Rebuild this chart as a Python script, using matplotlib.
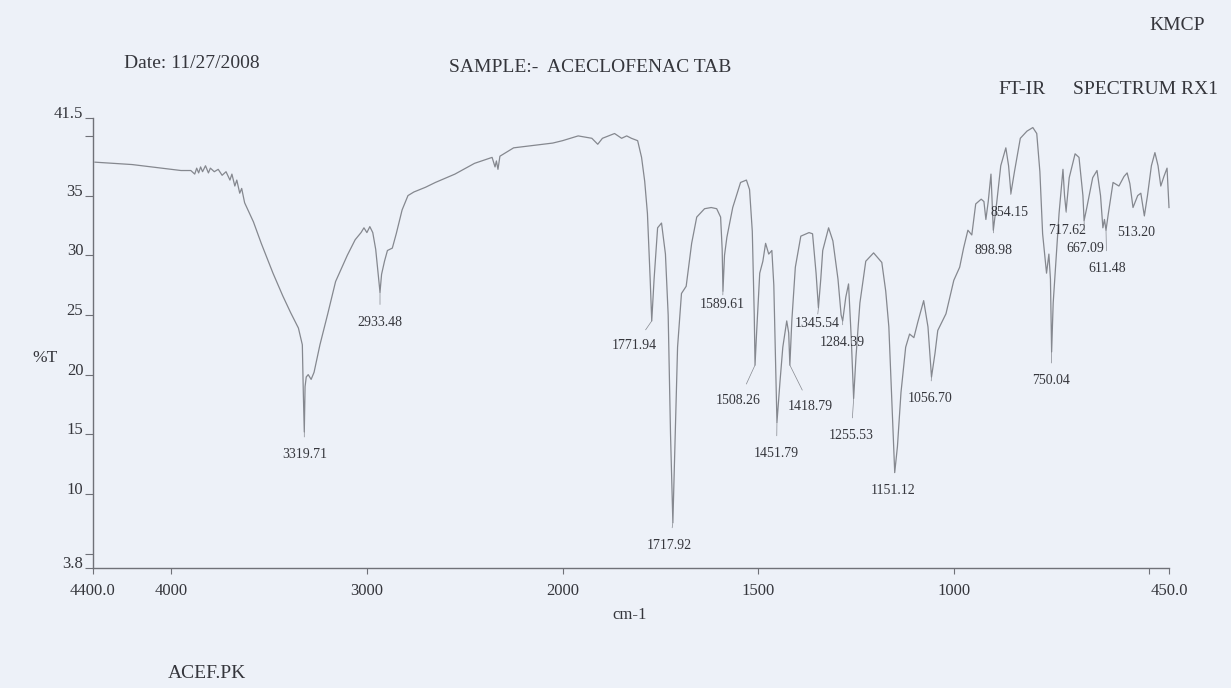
import numpy as np
import matplotlib
matplotlib.use("Agg")
import matplotlib.pyplot as plt

# ---------------- data ----------------
wavenumber = [4390, 4200, 4050, 3950, 3900, 3880, 3870, 3860, 3850, 3840, 3825, 3810, 3800,
              3780, 3760, 3740, 3720, 3700, 3690, 3675, 3665, 3650, 3640, 3625, 3600, 3580,
              3540, 3480, 3430, 3390, 3350, 3330, 3325, 3320, 3316, 3310, 3300, 3285, 3270,
              3240, 3200, 3160, 3100, 3060, 3030, 3015, 3000, 2985, 2970, 2955, 2940, 2933,
              2925, 2910, 2895, 2870, 2850, 2820, 2790, 2760, 2700, 2650, 2550, 2450, 2360,
              2345, 2338, 2330, 2320, 2250, 2150, 2050, 2000, 1960, 1925, 1910, 1898, 1867,
              1849, 1836, 1824, 1808, 1798, 1790, 1783, 1776, 1772, 1766, 1757, 1747, 1737,
              1730, 1724, 1718, 1712, 1706, 1696, 1684, 1670, 1657, 1637, 1620, 1606, 1596,
              1592, 1590, 1586, 1580, 1565, 1545, 1530, 1522, 1515, 1510, 1508, 1504, 1496,
              1488, 1481, 1473, 1465, 1460, 1452, 1444, 1437, 1427, 1422, 1419, 1414, 1405,
              1391, 1370, 1361, 1352, 1346, 1340, 1335, 1320, 1309, 1296, 1288, 1284, 1276,
              1269, 1262, 1256, 1250, 1240, 1225, 1205, 1184, 1174, 1166, 1158, 1151, 1144,
              1135, 1123, 1113, 1102, 1092, 1077, 1066, 1057, 1048, 1041, 1020, 1000, 985,
              975, 964, 954, 944, 930, 923, 918, 912, 905, 899, 890, 880, 867, 860, 854, 845,
              830, 813, 798, 788, 780, 773, 763, 757, 753, 750, 746, 738, 731, 721, 717, 713,
              705, 690, 680, 670, 667, 660, 645, 634, 625, 619, 615, 611, 605, 593, 578, 565,
              557, 550, 542, 530, 522, 513, 505, 495, 486, 478, 471, 463, 455, 450]
transmittance = [37.8, 37.6, 37.3, 37.1, 37.1, 36.8, 37.3, 36.9, 37.4, 37.0, 37.5, 36.9, 37.3,
                 37.0, 37.2, 36.7, 37.0, 36.3, 36.8, 35.8, 36.3, 35.2, 35.6, 34.4, 33.5, 32.8,
                 31.0, 28.5, 26.6, 25.2, 23.9, 22.5, 18.5, 15.2, 19.0, 19.8, 20.0, 19.6, 20.2,
                 22.5, 25.1, 27.8, 30.0, 31.3, 31.9, 32.3, 31.9, 32.4, 31.9, 30.5, 28.0, 26.9,
                 28.4, 29.5, 30.4, 30.6, 31.8, 33.8, 35.0, 35.3, 35.7, 36.1, 36.8, 37.7, 38.2,
                 37.4, 37.9, 37.2, 38.3, 39.0, 39.2, 39.4, 39.6, 40.0, 39.8, 39.3, 39.8, 40.2,
                 39.8, 40.0, 39.8, 39.6, 38.2, 36.2, 33.5, 28.0, 24.5, 28.0, 32.3, 32.7, 30.1,
                 25.0, 15.0, 7.6, 15.0, 22.3, 26.8, 27.4, 31.0, 33.2, 33.9, 34.0, 33.9, 33.2,
                 30.5, 27.0, 30.0, 31.5, 34.0, 36.1, 36.3, 35.5, 32.0, 25.0, 20.8, 23.5, 28.5,
                 29.5, 31.0, 30.1, 30.4, 27.5, 16.0, 19.5, 22.3, 24.5, 23.5, 20.8, 24.5, 29.0,
                 31.6, 31.9, 31.8, 28.5, 25.6, 28.0, 30.4, 32.3, 31.2, 28.0, 25.0, 24.5, 26.5,
                 27.6, 23.0, 18.0, 21.5, 26.0, 29.5, 30.2, 29.4, 27.0, 24.0, 17.5, 11.8, 14.0,
                 18.5, 22.3, 23.4, 23.1, 24.4, 26.2, 24.0, 19.8, 21.8, 23.7, 25.1, 27.9, 29.0,
                 30.6, 32.1, 31.7, 34.3, 34.7, 34.5, 33.0, 34.5, 36.8, 32.1, 34.5, 37.5, 39.0,
                 37.5, 35.2, 37.0, 39.8, 40.4, 40.7, 40.2, 37.0, 31.8, 28.5, 30.1, 28.0, 21.9,
                 26.0, 30.0, 33.5, 37.2, 35.0, 33.7, 36.5, 38.5, 38.2, 35.0, 32.9, 34.0, 36.5,
                 37.1, 35.0, 32.3, 33.0, 32.1, 33.5, 36.1, 35.8, 36.6, 36.9, 36.0, 34.0, 35.0,
                 35.2, 33.3, 35.0, 37.5, 38.6, 37.5, 35.8, 36.6, 37.3, 34.0]

# peak labels: text, peak position, peak %T, label position
peak_text = ["3319.71", "2933.48", "1771.94", "1717.92", "1589.61", "1508.26", "1451.79",
             "1418.79", "1345.54", "1284.39", "1255.53", "1151.12", "1056.70", "750.04",
             "898.98", "854.15", "717.62", "667.09", "611.48", "513.20"]
peak_x = [3320, 2933, 1772, 1718, 1590, 1508, 1452, 1419, 1346, 1284, 1256, 1151, 1057, 750,
          899, 854, 713, 667, 611, 513]
peak_y = [15.2, 26.9, 24.5, 7.6, 27.0, 20.8, 16.0, 20.8, 25.6, 24.5, 18.0, 11.8, 19.8, 21.9,
          32.1, 35.2, 33.7, 32.9, 32.1, 33.3]
label_x = [3320, 2933, 1816, 1726, 1591, 1550, 1453, 1366, 1350, 1284, 1262, 1156, 1061, 752,
           898, 857, 711, 665, 609, 535]
label_y = [13.3, 24.4, 22.4, 5.7, 25.9, 17.8, 13.4, 17.3, 24.3, 22.7, 14.9, 10.3, 18.0, 19.5,
           30.4, 33.6, 32.1, 30.6, 28.9, 31.9]

y_ticks = [41.5, 40, 35, 30, 25, 20, 15, 10, 5, 3.8]
y_tick_labels = ["41.5", "", "35", "30", "25", "20", "15", "10", "", "3.8"]
x_ticks = [4400, 4000, 3000, 2000, 1500, 1000, 500, 450]
x_tick_labels = ["4400.0", "4000", "3000", "2000", "1500", "1000", "", "450.0"]

# ---------------- style ----------------
W, H = 1231, 688
bg = "#edf1f8"
ink = "#35363c"
curve_col = "#85888f"
axis_col = "#6f7178"
font = ["Liberation Serif", "DejaVu Serif"]
plt.rcParams["font.family"] = font


def fwd(v):
    v = np.asarray(v, dtype=float)
    return np.where(v > 2000, 2000 + (v - 2000) / 2.0, v)


def inv(u):
    u = np.asarray(u, dtype=float)
    return np.where(u > 2000, 2000 + (u - 2000) * 2.0, u)


fig = plt.figure(figsize=(W / 100, H / 100), dpi=100)
fig.patch.set_facecolor(bg)

left, right, top, bottom = 93, 1169, 118, 568
ax = fig.add_axes([left / W, 1 - bottom / H, (right - left) / W, (bottom - top) / H])
ax.set_facecolor("none")
ax.set_xscale("function", functions=(fwd, inv))
ax.set_xlim(4400, 450)
ax.set_ylim(3.8, 41.5)

ax.plot(wavenumber, transmittance, color=curve_col, lw=0.9, solid_joinstyle="round",
        clip_on=False)

for t, px, py, lx, ly in zip(peak_text, peak_x, peak_y, label_x, label_y):
    ax.annotate(t, xy=(px, py), xytext=(lx, ly), ha="center", va="center",
                fontsize=10, color=ink,
                arrowprops=dict(arrowstyle="-", color=curve_col, lw=0.5,
                                shrinkA=6, shrinkB=0))

for s in ["top", "right"]:
    ax.spines[s].set_visible(False)
for s in ["left", "bottom"]:
    ax.spines[s].set_color(axis_col)
    ax.spines[s].set_linewidth(1.0)

ax.set_yticks(y_ticks)
ax.set_yticklabels(y_tick_labels)
ax.set_xticks(x_ticks)
ax.set_xticklabels(x_tick_labels)
ax.minorticks_off()
ax.tick_params(axis="y", direction="out", length=6, width=0.8, color=axis_col, pad=1,
               labelsize=12, labelcolor=ink)
ax.tick_params(axis="x", direction="out", length=4, width=0.8, color=axis_col, pad=7,
               labelsize=12, labelcolor=ink)
for lab in ax.get_yticklabels():
    lab.set_verticalalignment("baseline")


def ftext(x, y, s, **kw):
    fig.text(x / W, 1 - y / H, s, color=ink, **kw)


ftext(124, 63, "Date: 11/27/2008", fontsize=14, ha="left", va="center")
ftext(449, 68, "SAMPLE:-  ACECLOFENAC TAB", fontsize=14, ha="left", va="center")
ftext(1149, 25, "KMCP", fontsize=14, ha="left", va="center")
ftext(998, 90, "FT-IR", fontsize=14, ha="left", va="center")
ftext(1073, 90, "SPECTRUM RX1", fontsize=14, ha="left", va="center")
ftext(45, 358, "%T", fontsize=12.5, ha="center", va="center")
ftext(630, 615, "cm-1", fontsize=12, ha="center", va="center")
ftext(168, 673, "ACEF.PK", fontsize=14, ha="left", va="center")

fig.savefig("out.png", dpi=100, facecolor=bg)
